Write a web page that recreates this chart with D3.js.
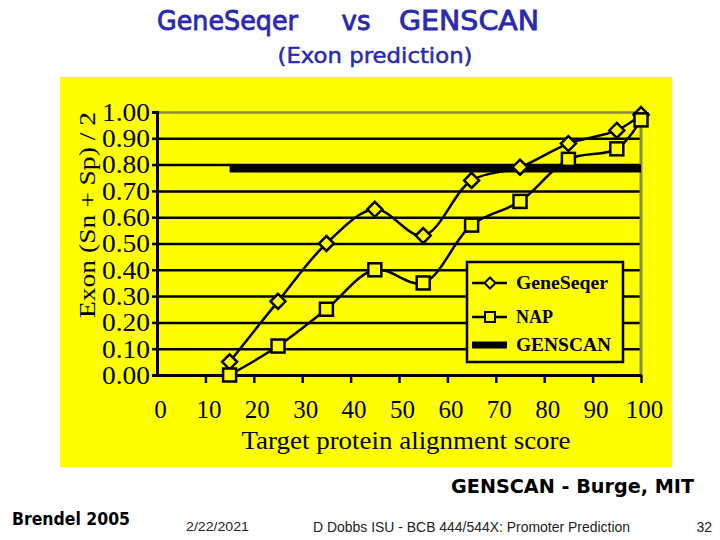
<!DOCTYPE html>
<html><head><meta charset="utf-8">
<script src="https://cdn.jsdelivr.net/npm/d3@7"></script>
<style>body{margin:0;background:#fff}svg{display:block}</style>
</head><body>
<svg id="c" width="720" height="540"></svg>
<script>
// ---- data ----
const xValues   = [15, 25, 35, 45, 55, 65, 75, 85, 95, 100];
const geneSeqer = [0.05, 0.28, 0.50, 0.63, 0.53, 0.74, 0.79, 0.88, 0.93, 0.99];
const nap       = [0.00, 0.11, 0.25, 0.40, 0.35, 0.57, 0.66, 0.82, 0.86, 0.97];
const genscanX  = [15, 100];
const genscan   = [0.785, 0.785];
const yTicks = [0, 0.1, 0.2, 0.3, 0.4, 0.5, 0.6, 0.7, 0.8, 0.9, 1.0];
const xTicks = [0, 10, 20, 30, 40, 50, 60, 70, 80, 90, 100];
const seriesNames = ["GeneSeqer", "NAP", "GENSCAN"];

const svg = d3.select("#c");
const x = d3.scaleLinear().domain([0, 100]).range([157, 641]);
const y = d3.scaleLinear().domain([0, 1]).range([375, 112]);
const serif = "'Liberation Serif','Times New Roman',serif";
const BLUE = "#2a2ab0";
const OLIVE = "#8a8a40";

// titles
svg.append("text").attr("x", 157).attr("y", 30).attr("fill", BLUE)
  .attr("font-family", "'DejaVu Sans',sans-serif").attr("font-size", 26)
  .attr("stroke", BLUE).attr("stroke-width", 0.8)
  .attr("textLength", 141).attr("lengthAdjust", "spacingAndGlyphs").text("GeneSeqer");
svg.append("text").attr("x", 356).attr("y", 30).attr("text-anchor", "middle").attr("fill", BLUE)
  .attr("font-family", "'DejaVu Sans',sans-serif").attr("font-size", 26)
  .attr("stroke", BLUE).attr("stroke-width", 0.8).text("vs");
svg.append("text").attr("x", 399).attr("y", 30).attr("fill", BLUE)
  .attr("font-family", "'DejaVu Sans',sans-serif").attr("font-size", 26)
  .attr("stroke", BLUE).attr("stroke-width", 0.8)
  .attr("textLength", 140).attr("lengthAdjust", "spacingAndGlyphs").text("GENSCAN");
svg.append("text").attr("x", 375).attr("y", 63).attr("text-anchor", "middle").attr("fill", BLUE)
  .attr("font-family", "'DejaVu Sans',sans-serif").attr("font-size", 21)
  .attr("stroke", BLUE).attr("stroke-width", 0.5)
  .attr("textLength", 195).attr("lengthAdjust", "spacingAndGlyphs").text("(Exon prediction)");

// yellow chart background
svg.append("rect").attr("x", 60).attr("y", 77).attr("width", 612).attr("height", 390).attr("fill", "#ffff00");

// gridlines
const grid = svg.append("g").attr("transform", `translate(${x(0)},0)`)
  .call(d3.axisLeft(y).tickValues(yTicks.filter(d => d > 0)).tickSize(-(x(100) - x(0))).tickFormat(""));
grid.select(".domain").remove();
grid.selectAll(".tick line").attr("stroke", d => d === 1 ? OLIVE : "#000").attr("stroke-width", 2.5);

// right border
svg.append("line").attr("x1", x(100)).attr("x2", x(100)).attr("y1", y(1)).attr("y2", y(0))
  .attr("stroke", OLIVE).attr("stroke-width", 3);

// GENSCAN thick line
svg.append("path")
  .datum(genscanX.map((d, i) => [d, genscan[i]]))
  .attr("d", d3.line().x(d => x(d[0])).y(d => y(d[1])))
  .attr("stroke", "#000").attr("stroke-width", 8).attr("fill", "none");

// series lines
const line = d3.line().x(d => x(d[0])).y(d => y(d[1])).curve(d3.curveCatmullRom.alpha(0.5));
const gsData = xValues.map((d, i) => [d, geneSeqer[i]]);
const napData = xValues.map((d, i) => [d, nap[i]]);
[gsData, napData].forEach(dat => {
  svg.append("path").datum(dat).attr("d", line)
    .attr("fill", "none").attr("stroke", "#000").attr("stroke-width", 2.5);
});

// axes
const yAxis = svg.append("g").attr("transform", `translate(${x(0)},0)`)
  .call(d3.axisLeft(y).tickValues(yTicks).tickSize(5).tickPadding(2).tickFormat(d3.format(".2f")));
yAxis.select(".domain").attr("stroke", "#000").attr("stroke-width", 3);
yAxis.selectAll(".tick line").attr("stroke", "#000").attr("stroke-width", 2.5);
yAxis.selectAll(".tick text").attr("font-family", serif).attr("font-size", 26).attr("fill", "#000")
  .attr("textLength", 48).attr("lengthAdjust", "spacingAndGlyphs");

const xAxis = svg.append("g").attr("transform", `translate(0,${y(0)})`)
  .call(d3.axisBottom(x).tickValues(xTicks).tickSize(8).tickSizeOuter(0).tickPadding(17).tickFormat(d3.format("d")));
xAxis.select(".domain").attr("stroke", "#000").attr("stroke-width", 3);
xAxis.selectAll(".tick line").attr("stroke", "#000").attr("stroke-width", 2.5)
  .attr("display", d => d === 0 ? "none" : null);
xAxis.selectAll(".tick text").attr("font-family", serif).attr("font-size", 25).attr("fill", "#000").attr("dx", 3);

// axis titles
svg.append("text").attr("x", 406).attr("y", 449).attr("text-anchor", "middle")
  .attr("font-family", serif).attr("font-size", 26)
  .attr("textLength", 329).attr("lengthAdjust", "spacingAndGlyphs").text("Target protein alignment score");
svg.append("text").attr("transform", "translate(95,215) rotate(-90)").attr("text-anchor", "middle")
  .attr("font-family", serif).attr("font-size", 24)
  .attr("textLength", 206).attr("lengthAdjust", "spacingAndGlyphs").text("Exon (Sn + Sp) / 2");

// markers
const diamond = (cx, cy, r) => `M${cx},${cy - r}L${cx + r},${cy}L${cx},${cy + r}L${cx - r},${cy}Z`;
svg.append("g").selectAll("path").data(gsData).join("path")
  .attr("d", d => diamond(x(d[0]), y(d[1]), 7.5))
  .attr("fill", "#ffff00").attr("stroke", "#000").attr("stroke-width", 2.5);
svg.append("g").selectAll("rect").data(napData).join("rect")
  .attr("x", d => x(d[0]) - 6.5).attr("y", d => y(d[1]) - 6.5).attr("width", 13).attr("height", 13)
  .attr("fill", "#ffff00").attr("stroke", "#000").attr("stroke-width", 2.5);

// legend
const lg = svg.append("g");
lg.append("rect").attr("x", 467).attr("y", 262).attr("width", 156).attr("height", 100)
  .attr("fill", "#ffff00").attr("stroke", "#000").attr("stroke-width", 2.5);
const legY = [283, 317, 345];
const legW = [92, 37, 95];
seriesNames.forEach((name, i) => {
  const cy = legY[i];
  lg.append("line").attr("x1", 472).attr("x2", 507).attr("y1", cy).attr("y2", cy)
    .attr("stroke", "#000").attr("stroke-width", i === 2 ? 7 : 2.5);
  if (i === 0) lg.append("path").attr("d", diamond(490, cy, 5.5)).attr("fill", "#ffff00").attr("stroke", "#000").attr("stroke-width", 2);
  if (i === 1) lg.append("rect").attr("x", 485).attr("y", cy - 5).attr("width", 10).attr("height", 10).attr("fill", "#ffff00").attr("stroke", "#000").attr("stroke-width", 2);
  lg.append("text").attr("x", 516).attr("y", cy + 6).attr("font-family", serif).attr("font-weight", "bold")
    .attr("font-size", 18).attr("textLength", legW[i]).attr("lengthAdjust", "spacingAndGlyphs").text(name);
});

// footer texts
svg.append("text").attr("x", 451).attr("y", 493).attr("font-family", "'DejaVu Sans',sans-serif")
  .attr("font-weight", "bold").attr("font-size", 19).attr("textLength", 243).attr("lengthAdjust", "spacingAndGlyphs")
  .text("GENSCAN - Burge, MIT");
svg.append("text").attr("x", 12).attr("y", 525).attr("font-family", "'DejaVu Sans',sans-serif")
  .attr("font-weight", "bold").attr("font-size", 17).attr("textLength", 118).attr("lengthAdjust", "spacingAndGlyphs")
  .text("Brendel 2005");
svg.append("text").attr("x", 186).attr("y", 531).attr("font-family", "'Liberation Sans',Arial,sans-serif")
  .attr("font-size", 12).attr("fill", "#222").attr("textLength", 63).attr("lengthAdjust", "spacingAndGlyphs")
  .text("2/22/2021");
svg.append("text").attr("x", 313).attr("y", 532).attr("font-family", "'Liberation Sans',Arial,sans-serif")
  .attr("font-size", 14).attr("fill", "#222").attr("textLength", 317).attr("lengthAdjust", "spacingAndGlyphs")
  .text("D Dobbs ISU - BCB 444/544X: Promoter Prediction");
svg.append("text").attr("x", 712).attr("y", 532).attr("text-anchor", "end").attr("font-family", "'Liberation Sans',Arial,sans-serif")
  .attr("font-size", 14).attr("fill", "#222").text("32");
</script>
</body></html>
